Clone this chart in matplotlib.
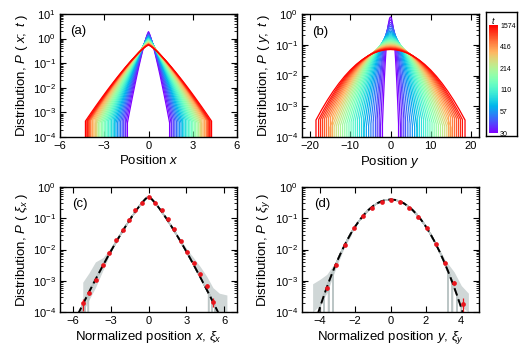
import numpy as np
import matplotlib
matplotlib.use("Agg")
import matplotlib.pyplot as plt
from matplotlib import colors, cm

plt.rcParams.update({
    "font.family": ["Liberation Sans", "DejaVu Sans"],
    "mathtext.fontset": "custom",
    "mathtext.rm": "Liberation Sans",
    "mathtext.it": "Liberation Sans:italic",
    "mathtext.bf": "Liberation Sans:bold",
    "axes.linewidth": 1.0,
    "xtick.direction": "in",
    "ytick.direction": "in",
    "xtick.top": True,
    "ytick.right": True,
    "font.size": 9,
})

# ---------------- data ----------------
# times (colour scale) of the curves
times = [30, 33, 36, 40, 44, 48, 52, 57, 63, 69, 76, 84, 92, 101, 110, 122, 134, 148,
         163, 180, 196, 214, 237, 262, 290, 320, 354, 385, 416, 520, 640, 780, 950, 1130,
         1340, 1574]
cbar_tick_times = [30, 57, 110, 214, 416, 1574]
sigma_x = [0.26, 0.28, 0.30, 0.32, 0.34, 0.36, 0.38, 0.40, 0.42, 0.44, 0.46, 0.48, 0.50,
           0.52, 0.54, 0.56, 0.58, 0.60, 0.62, 0.64, 0.66, 0.68, 0.70, 0.72, 0.74, 0.76,
           0.78, 0.80, 0.82, 0.83, 0.84, 0.85, 0.86, 0.87, 0.88, 0.90]
sigma_y = [0.50, 0.62, 0.75, 0.88, 1.00, 1.15, 1.30, 1.45, 1.60, 1.75, 1.90, 2.05, 2.20,
           2.35, 2.50, 2.65, 2.80, 2.95, 3.10, 3.25, 3.40, 3.55, 3.70, 3.85, 4.00, 4.15,
           4.30, 4.45, 4.60, 4.75, 4.90, 5.05, 5.20, 5.35, 5.50, 5.70]
floor_x = 3.5e-4   # lowest nonzero histogram level, panel (a)
floor_y = 2e-4     # panel (b)

# dashed master curve of panel (c) (xi >= 0)
xi_c_half = [0, 0.25, 0.5, 0.75, 1.0, 1.25, 1.5, 1.75, 2.0, 2.25, 2.5, 2.75, 3.0, 3.25,
             3.5, 3.75, 4.0, 4.25, 4.5, 4.75, 5.0, 5.25, 5.5, 5.75, 6.0]
f_c_half = [0.5, 0.411, 0.317, 0.236, 0.172, 0.1233, 0.087, 0.0606, 0.0417, 0.0284,
            0.0192, 0.01283, 0.00853, 0.00561, 0.00367, 0.00238, 0.00154, 0.000986,
            0.000628, 0.000399, 0.000252, 0.000158, 9.84e-5, 6.1e-5, 3.8e-5]
# dashed master curve of panel (d) (xi >= 0)
xi_d_half = [0, 0.25, 0.5, 0.75, 1.0, 1.25, 1.5, 1.75, 2.0, 2.25, 2.5, 2.75, 3.0, 3.25,
             3.5, 3.75, 4.0, 4.25, 4.5]
f_d_half = [0.3989, 0.3867, 0.3521, 0.3011, 0.2420, 0.1826, 0.1295, 0.0863, 0.0540,
            0.0317, 0.01753, 0.00909, 0.004432, 0.002029, 0.000873, 0.000353, 0.0001338,
            4.77e-5, 1.60e-5]

# red averaged points with error bars
xi_pts_c = [-5.16, -4.68, -4.18, -3.62, -3.12, -2.58, -2.05, -1.54, -1.05, -0.52, 0.0,
            0.52, 1.05, 1.54, 2.05, 2.57, 3.08, 3.58, 4.10, 4.60, 5.12]
p_pts_c = [1.9e-4, 4.1e-4, 1.08e-3, 3.2e-3, 7.7e-3, 0.020, 0.043, 0.091, 0.184, 0.31, 0.49,
           0.31, 0.184, 0.092, 0.044, 0.019, 0.0081, 0.0036, 0.0016, 6.9e-4, 2.1e-4]
err_pts_c = [0.8e-4, 0.7e-4, 1.0e-4, 2e-4, 4e-4, 0.001, 0.002, 0.004, 0.007, 0.01, 0.015,
             0.01, 0.007, 0.004, 0.002, 0.001, 4e-4, 2e-4, 1.2e-4, 1e-4, 0.7e-4]
xi_pts_d = [-3.60, -3.10, -2.57, -2.06, -1.55, -1.04, -0.50, 0.0, 0.52, 1.03, 1.54, 2.06,
            2.55, 3.08, 3.57, 4.11]
p_pts_d = [5.7e-4, 3.2e-3, 0.0139, 0.048, 0.118, 0.22, 0.32, 0.384, 0.32, 0.22, 0.112,
           0.048, 0.0147, 0.0038, 8.7e-4, 1.85e-4]
err_pts_d = [8e-5, 3e-4, 1e-3, 3e-3, 6e-3, 0.01, 0.012, 0.013, 0.012, 0.01, 6e-3, 3e-3,
             1e-3, 3e-4, 1.2e-4, 0.9e-4]

# spread of the grey collapsed curves in the tails (upper / lower edges)
band_c_left_xi = [-5.2, -4.7, -4.2, -3.6, -3.1, -2.6, -2.2]
band_c_left_hi = [9e-4, 1.8e-3, 4e-3, 5.5e-3, 1.0e-2, 0.02, 0.033]
band_c_left_lo = [1e-4, 2.5e-4, 6e-4, 2.2e-3, 6.5e-3, 0.016, 0.029]
band_c_right_xi = [2.2, 2.6, 3.1, 3.6, 4.1, 4.6, 5.1, 5.6, 6.2]
band_c_right_hi = [0.033, 0.019, 0.0095, 0.0052, 0.0028, 0.0014, 6e-4, 4e-4, 3.5e-4]
band_c_right_lo = [0.029, 0.016, 0.0068, 0.0026, 0.0011, 4.5e-4, 1.5e-4, 1e-4, 1e-4]
band_d_left_xi = [-4.4, -4.0, -3.6, -3.1, -2.6, -2.2]
band_d_left_hi = [8e-4, 1.1e-3, 1.6e-3, 4e-3, 0.015, 0.034]
band_d_left_lo = [1e-4, 1.6e-4, 4e-4, 2.4e-3, 0.012, 0.03]
band_d_right_xi = [2.2, 2.6, 3.1, 3.6, 4.0, 4.4]
band_d_right_hi = [0.034, 0.015, 4.5e-3, 1.9e-3, 7e-4, 4e-4]
band_d_right_lo = [0.03, 0.012, 2.4e-3, 4.5e-4, 1.5e-4, 1e-4]

# ---------------- helpers ----------------
def full(xi_half, f_half):
    xi_half = np.asarray(xi_half, float)
    f_half = np.asarray(f_half, float)
    xi = np.concatenate([-xi_half[:0:-1], xi_half])
    f = np.concatenate([f_half[:0:-1], f_half])
    return xi, f


def scaled_curve(xi, f, s, floor):
    x = xi * s
    p = f / s
    keep = p >= floor
    x, p = x[keep], p[keep]
    x = np.concatenate([[x[0]], x, [x[-1]]])
    p = np.concatenate([[1e-9], p, [1e-9]])
    return x, p


def style(ax):
    ax.set_yscale("log")
    ax.tick_params(which="major", length=4, width=0.8, labelsize=8, pad=3)
    ax.tick_params(which="minor", length=2, width=0.6)
    ax.xaxis.set_minor_locator(matplotlib.ticker.NullLocator())


cmap = plt.get_cmap("rainbow")
n = len(times)
gray = "#bcc6c6"

fig = plt.figure(figsize=(5.29, 3.5), dpi=100)
W, H = 529.0, 350.0
ax_a = fig.add_axes([60 / W, 1 - 137 / H, 177 / W, 123 / H])
ax_b = fig.add_axes([302 / W, 1 - 137 / H, 177 / W, 123 / H])
ax_c = fig.add_axes([60 / W, 1 - 312 / H, 177 / W, 125 / H])
ax_d = fig.add_axes([302 / W, 1 - 312 / H, 177 / W, 125 / H])

xi_c, f_c = full(xi_c_half, f_c_half)
xi_d, f_d = full(xi_d_half, f_d_half)

# (a)
for i, s in enumerate(sigma_x):
    x, p = scaled_curve(xi_c, f_c, s, floor_x)
    ax_a.plot(x, p, color=cmap(i / (n - 1)), lw=0.9)
style(ax_a)
ax_a.set_xlim(-6, 6)
ax_a.set_ylim(1e-4, 1e1)
ax_a.set_xticks([-6, -3, 0, 3, 6])
ax_a.set_xlabel(r"Position $x$", fontsize=9.5, labelpad=2)
ax_a.set_ylabel(r"Distribution, $P\ (\ x;\ t\ )$", fontsize=9.5, labelpad=2)
ax_a.text(0.055, 0.86, "(a)", transform=ax_a.transAxes, fontsize=9.5, va="center")

# (b)
for i, s in enumerate(sigma_y):
    y, p = scaled_curve(xi_d, f_d, s, floor_y)
    ax_b.plot(y, p, color=cmap(i / (n - 1)), lw=0.9)
style(ax_b)
ax_b.set_xlim(-22, 22)
ax_b.set_ylim(1e-4, 1e0)
ax_b.set_xticks([-20, -10, 0, 10, 20])
ax_b.set_xlabel(r"Position $y$", fontsize=9.5, labelpad=2)
ax_b.set_ylabel(r"Distribution, $P\ (\ y;\ t\ )$", fontsize=9.5, labelpad=2)
ax_b.text(0.055, 0.85, "(b)", transform=ax_b.transAxes, fontsize=9.5, va="center")

# (c)
ax_c.fill_between(band_c_left_xi, band_c_left_lo, band_c_left_hi, color=gray, lw=0, alpha=0.7)
ax_c.fill_between(band_c_right_xi, band_c_right_lo, band_c_right_hi, color=gray, lw=0, alpha=0.7)
for i, s in enumerate(sigma_x):
    x, p = scaled_curve(xi_c, f_c, s, floor_x)
    ax_c.plot(x / s, p * s, color=gray, lw=0.8)
ax_c.plot(xi_c, f_c, color="black", lw=1.4, ls=(0, (4, 2)))
ax_c.errorbar(xi_pts_c, p_pts_c, yerr=err_pts_c, fmt="o", color="#e8141c", ms=3.4,
              elinewidth=0.9, capsize=1.2, capthick=0.8, mew=0)
style(ax_c)
ax_c.set_xlim(-7, 7)
ax_c.set_ylim(1e-4, 1e0)
ax_c.set_xticks([-6, -3, 0, 3, 6])
ax_c.set_xlabel(r"Normalized position $x$, $\xi_x$", fontsize=9.5, labelpad=2)
ax_c.set_ylabel(r"Distribution, $P\ (\ \xi_x\ )$", fontsize=9.5, labelpad=2)
ax_c.text(0.068, 0.86, "(c)", transform=ax_c.transAxes, fontsize=9.5, va="center")

# (d)
ax_d.fill_between(band_d_left_xi, band_d_left_lo, band_d_left_hi, color=gray, lw=0, alpha=0.7)
ax_d.fill_between(band_d_right_xi, band_d_right_lo, band_d_right_hi, color=gray, lw=0, alpha=0.7)
for i, s in enumerate(sigma_y):
    y, p = scaled_curve(xi_d, f_d, s, floor_y)
    ax_d.plot(y / s, p * s, color=gray, lw=0.8)
ax_d.plot(xi_d, f_d, color="black", lw=1.4, ls=(0, (4, 2)))
ax_d.errorbar(xi_pts_d, p_pts_d, yerr=err_pts_d, fmt="o", color="#e8141c", ms=3.4,
              elinewidth=0.9, capsize=1.2, capthick=0.8, mew=0)
style(ax_d)
ax_d.set_xlim(-5, 5)
ax_d.set_ylim(1e-4, 1e0)
ax_d.set_xticks([-4, -2, 0, 2, 4])
ax_d.set_xlabel(r"Normalized position $y$, $\xi_y$", fontsize=9.5, labelpad=2)
ax_d.set_ylabel(r"Distribution, $P\ (\ \xi_y\ )$", fontsize=9.5, labelpad=2)
ax_d.text(0.068, 0.86, "(d)", transform=ax_d.transAxes, fontsize=9.5, va="center")

# colour bar inside a framed box
frame = fig.add_axes([486 / W, 1 - 136 / H, 31 / W, 124 / H])
frame.set_xticks([])
frame.set_yticks([])
for sp in frame.spines.values():
    sp.set_linewidth(1.0)
cax = fig.add_axes([489 / W, 1 - 133 / H, 9 / W, 108 / H])
sm = cm.ScalarMappable(norm=colors.Normalize(0, n - 1), cmap=cmap)
cb = fig.colorbar(sm, cax=cax)
cb.outline.set_visible(False)
cb.set_ticks([times.index(t) for t in cbar_tick_times])
cb.set_ticklabels([str(t) for t in cbar_tick_times])
cb.ax.tick_params(labelsize=5, length=0, pad=1.5)
fig.text(493 / W, 1 - 20 / H, r"$t$", fontsize=6.5, ha="center", va="center")

fig.savefig("out.png", dpi=100)
